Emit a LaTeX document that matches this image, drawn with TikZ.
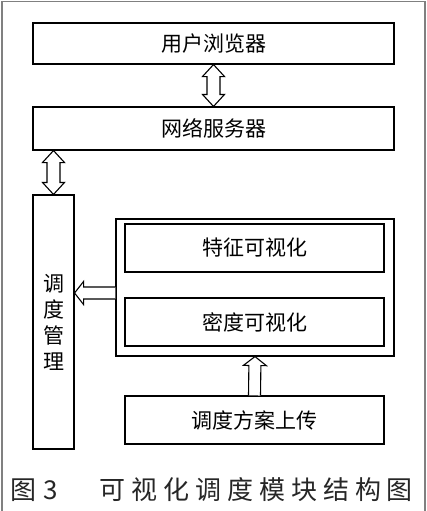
\documentclass[tikz,border=0pt]{standalone}
\usepackage{fontspec}
\setmainfont{Noto Sans CJK SC}
\usetikzlibrary{positioning,calc}

\tikzset{
  box/.style={draw, line width=1.1pt, inner sep=0pt, font=\fontsize{21}{26}\selectfont},
  fat/.style={draw, line width=1.1pt, fill=white, line join=miter},
  captext/.style={inner sep=0pt, text=black!85, font=\fontsize{26}{30}\selectfont},
}

% hollow arrow, tail open, tip at #2
\newcommand{\fatarrow}[2]{%
  \coordinate (fa-s) at (#1); \coordinate (fa-e) at (#2);
  \coordinate (fa-b) at ($(fa-e)!9pt!(fa-s)$);
  \draw[fat] ($(fa-s)!6pt!90:(fa-e)$) -- ($(fa-b)!6pt!-90:(fa-s)$) -- ($(fa-b)!11.5pt!-90:(fa-s)$)
    -- (fa-e) -- ($(fa-b)!11.5pt!90:(fa-s)$) -- ($(fa-b)!6pt!90:(fa-s)$) -- ($(fa-s)!6pt!-90:(fa-e)$);
}
% hollow arrow with two tips
\newcommand{\dblarrow}[2]{%
  \coordinate (da-s) at (#1); \coordinate (da-e) at (#2);
  \coordinate (da-b1) at ($(da-s)!12pt!(da-e)$);
  \coordinate (da-b2) at ($(da-e)!12pt!(da-s)$);
  \draw[fat] (da-s) -- ($(da-b1)!11pt!90:(da-e)$) -- ($(da-b1)!6.5pt!90:(da-e)$)
    -- ($(da-b2)!6.5pt!-90:(da-s)$) -- ($(da-b2)!11pt!-90:(da-s)$) -- (da-e)
    -- ($(da-b2)!11pt!90:(da-s)$) -- ($(da-b2)!6.5pt!90:(da-s)$)
    -- ($(da-b1)!6.5pt!-90:(da-e)$) -- ($(da-b1)!11pt!-90:(da-e)$) -- cycle;
}

\begin{document}
\begin{tikzpicture}[x=1pt, y=-1pt]
\useasboundingbox (0,0) rectangle (427,511);
% outer frame
\draw[gray, line width=1.3pt] (2,511) -- (2,1.5) -- (425,1.5) -- (425,511);

% Top boxes
\node[box, minimum width=361pt, minimum height=41pt] (browser) at (213.5,43.5) {用户浏览器};
\node[box, minimum width=361pt, minimum height=43pt] (server) at (213.5,128.5) {网络服务器};

% Left column
\node[box, minimum width=41pt, minimum height=254pt, align=center] (sched) at (53.5,322) {调\\度\\管\\理};

% Visualisation panel
\node[box, minimum width=278pt, minimum height=137pt] (panel) at (255,287.5) {};
\node[box, minimum width=259pt, minimum height=48pt] (feat) at (254.5,248) {特征可视化};
\node[box, minimum width=259pt, minimum height=48pt] (dens) at (254.5,322) {密度可视化};
\node[box, minimum width=259pt, minimum height=48pt] (upload) at (254.5,420) {调度方案上传};

% Arrows
\dblarrow{browser.south}{server.north}
\dblarrow{sched.north |- server.south}{sched.north}
\coordinate (out) at ($(panel.west)+(0,5.5)$);
\fatarrow{out}{sched.east |- out}
\fatarrow{upload.north}{panel.south}

% Caption
\node[captext, anchor=west] (figno) at (10,490) {图\hspace{7pt}3};
\node[captext, anchor=west] (figtitle) at (99,490) {\addfontfeature{LetterSpace=23}可视化调度模块结构图};
\end{tikzpicture}
\end{document}
